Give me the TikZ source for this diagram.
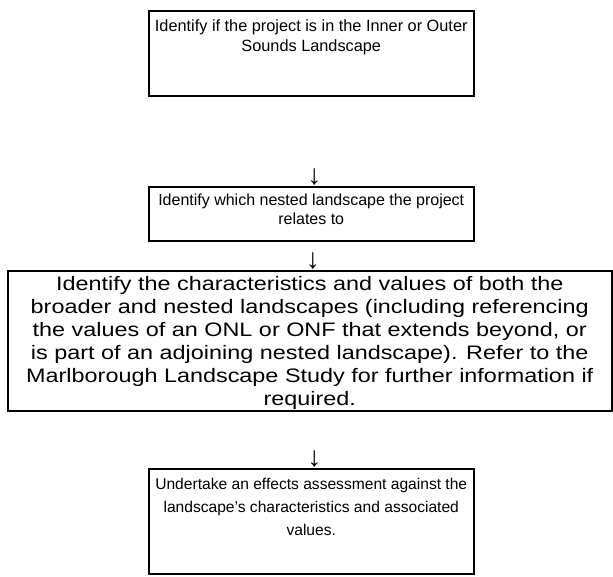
\documentclass[tikz,border=0pt]{standalone}
\usepackage{fontspec}
\usepackage{graphicx}
\setmainfont{Liberation Sans}
\newcommand{\btext}[6]{\parbox[c][#1][t]{#2}{\fontsize{#4}{#5}\selectfont\centering\vspace*{#3}\strut#6\par}}
\begin{document}
\begin{tikzpicture}[x=1pt,y=-1pt,
  box/.style={draw=black, line width=1.5pt, inner sep=0pt, anchor=north west},
  arr/.style={inner sep=0pt, anchor=south, font=\fontsize{28}{28}\selectfont}]
\useasboundingbox (0,0) rectangle (613,576);
\node[box, minimum width=325pt, minimum height=85pt] (b1) at (148,10)
  {\btext{85pt}{321pt}{7pt}{16.3}{20}{Identify if the project is in the Inner or Outer\\Sounds Landscape}};
\node[box, minimum width=325pt, minimum height=54pt] (b2) at (148,186)
  {\btext{54pt}{321pt}{5pt}{16}{19}{Identify which nested landscape the project\\relates to}};
\node[box, minimum width=604pt, minimum height=140pt] (b3) at (7,270)
  {\scalebox{1.2}[1]{\btext{140pt}{496pt}{4pt}{19.5}{23}{Identify the characteristics and values of both the\\broader and nested landscapes (including referencing\\the values of an ONL or ONF that extends beyond, or\\is part of an adjoining nested landscape). Refer to the\\Marlborough Landscape Study for further information if\\required.}}};
\node[box, minimum width=325pt, minimum height=105pt] (b4) at (148,468)
  {\btext{105pt}{321pt}{5pt}{15.6}{23}{Undertake an effects assessment against the\\landscape’s characteristics and associated\\values.}};
\node[arr] (a1) at ([xshift=3pt]b2.north) {↓};
\node[arr] (a2) at ([xshift=3pt]b3.north) {↓};
\node[arr] (a3) at ([xshift=3pt]b4.north) {↓};
\end{tikzpicture}
\end{document}
